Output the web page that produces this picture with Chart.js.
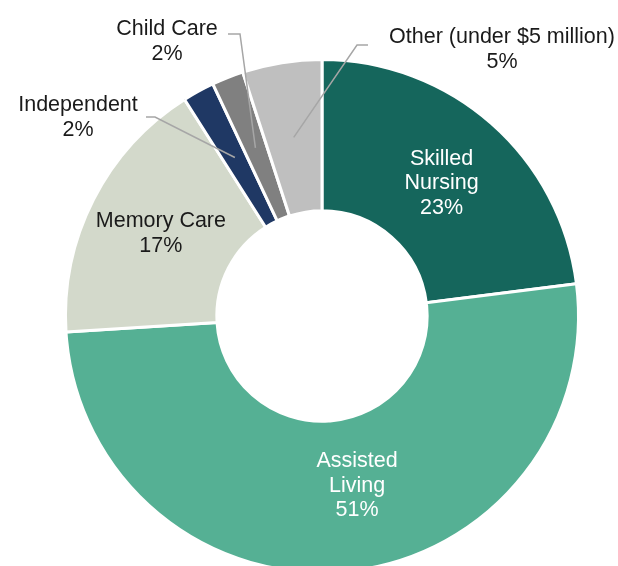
<!DOCTYPE html>
<html>
<head>
<meta charset="utf-8">
<script src="https://cdn.jsdelivr.net/npm/chart.js@4"></script>
<style>
  html, body { margin: 0; padding: 0; background: #fff; }
  #wrap { width: 618px; height: 566px; overflow: hidden; position: relative; }
</style>
</head>
<body>
<div id="wrap"><canvas id="chart" width="618" height="600"></canvas></div>
<script>
// data
const categories = ['Skilled Nursing', 'Assisted Living', 'Memory Care', 'Independent', 'Child Care', 'Other (under $5 million)']
const shares = [23, 51, 17, 2, 2, 5]
const labelNames = [['Skilled', 'Nursing'], ['Assisted', 'Living'], ['Memory Care'], ['Independent'], ['Child Care'], ['Other (under $5 million)']]

const colors = ['#15665C', '#55B094', '#D3D9CB', '#1F3864', '#808080', '#BFBFBF']

// label placement: inside labels are nudged from the slice centre,
// outside labels sit at a fixed spot with a leader line to the slice
const labelPlace = [
  {inside: true, dx: 0, dy: 1, color: '#fff'},
  {inside: true, dx: 18, dy: -12, color: '#fff'},
  {inside: true, dx: 0, dy: -2, color: '#1a1a1a'},
  {x: 78, y: 111, line: [[146, 117], [155, 117]], color: '#1a1a1a'},
  {x: 167, y: 35, line: [[228, 34], [240, 34]], color: '#1a1a1a'},
  {x: 502, y: 43, line: [[368, 45], [357, 45]], color: '#1a1a1a'}
]

const lineH = 24.5
const fontPx = 21.5

const sliceLabels = {
  id: 'sliceLabels',
  afterDatasetsDraw(chart) {
    const ctx = chart.ctx
    const arcs = chart.getDatasetMeta(0).data
    ctx.save()
    ctx.font = `${fontPx}px "Liberation Sans", Arial, sans-serif`
    ctx.textAlign = 'center'
    ctx.textBaseline = 'alphabetic'
    arcs.forEach((arc, i) => {
      const p = arc.getCenterPoint()
      const place = labelPlace[i]
      const lines = labelNames[i].concat([shares[i] + '%'])
      let x, y
      if (place.inside) {
        x = p.x + place.dx
        y = p.y + place.dy - (lines.length - 1) * lineH / 2 + fontPx * 0.716 / 2
      } else {
        x = place.x
        y = place.y
        ctx.strokeStyle = '#A6A6A6'
        ctx.lineWidth = 1.5
        ctx.beginPath()
        ctx.moveTo(place.line[0][0], place.line[0][1])
        ctx.lineTo(place.line[1][0], place.line[1][1])
        ctx.lineTo(p.x, p.y)
        ctx.stroke()
      }
      ctx.fillStyle = place.color
      lines.forEach((t, k) => ctx.fillText(t, x, y + k * lineH))
    })
    ctx.restore()
  }
}

new Chart(document.getElementById('chart'), {
  type: 'doughnut',
  data: {
    labels: categories,
    datasets: [{
      data: shares,
      backgroundColor: colors,
      borderColor: '#ffffff',
      borderWidth: 3
    }]
  },
  options: {
    responsive: false,
    animation: false,
    cutout: '41%',
    layout: {padding: {left: 64, right: 38, top: 58, bottom: 26}},
    plugins: {
      legend: {display: false},
      tooltip: {enabled: false}
    }
  },
  plugins: [sliceLabels]
})
</script>
</body>
</html>
